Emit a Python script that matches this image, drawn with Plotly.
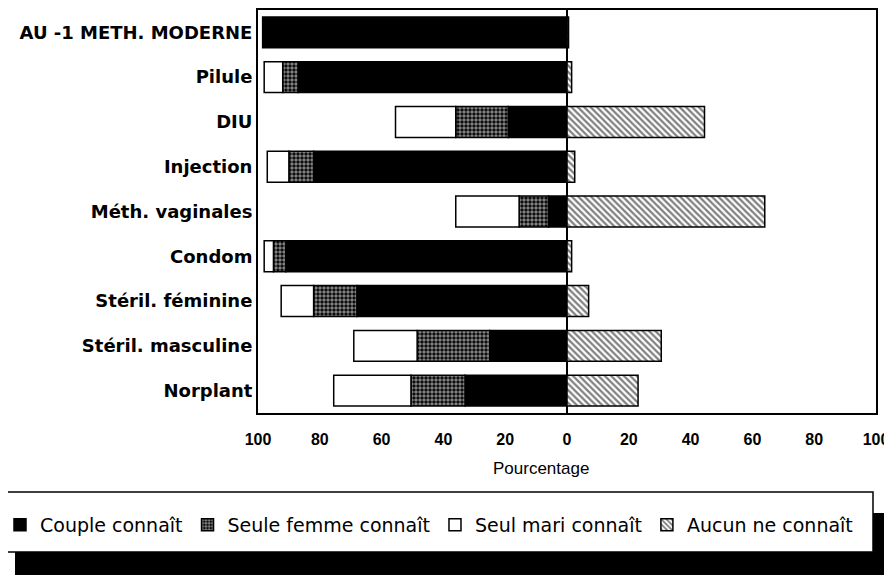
import plotly.graph_objects as go

categories = ["AU -1 METH. MODERNE", "Pilule", "DIU", "Injection", "Méth. vaginales",
              "Condom", "Stéril. féminine", "Stéril. masculine", "Norplant"]
couple = [98.5, 87, 19, 82, 6, 91, 68, 25, 33]
femme = [0, 5, 17, 8, 9.5, 4, 14, 23.5, 17.5]
mari = [0, 6, 19.5, 7, 20.5, 3, 10.5, 20.5, 25]
aucun = [0.5, 1.5, 44.5, 2.5, 64, 1.5, 7, 30.5, 23]

tick_vals = [-100, -80, -60, -40, -20, 0, 20, 40, 60, 80, 100]
tick_text = ["100", "80", "60", "40", "20", "0", "20", "40", "60", "80", "100"]

# the page body has an 8px margin, so the figure is sized to fill the rest of the window
OFF = 8
W, H = 892 - OFF, 575 - OFF
PLOT_L, PLOT_R, PLOT_T, PLOT_B = 258, 876, 10, 413   # in window pixels
ML = PLOT_L - OFF
MR = W - (PLOT_R - OFF)
MT = PLOT_T - OFF
MB = H - (PLOT_B - OFF)
PW, PH = W - ML - MR, H - MT - MB

def px_x(p):
    return (p - OFF - ML) / PW

def px_y(p):
    return (H - MB - (p - OFF)) / PH

line = dict(color="black", width=1.5)
fig = go.Figure()
fig.add_trace(go.Bar(y=categories, x=[-v for v in couple], orientation="h", name="Couple connaît",
                     marker=dict(color="black", line=line)))
fig.add_trace(go.Bar(y=categories, x=[-v for v in femme], orientation="h", name="Seule femme connaît",
                     marker=dict(color="black", line=line,
                                 pattern=dict(shape=".", fgcolor="white", bgcolor="black", size=4, solidity=0.6))))
fig.add_trace(go.Bar(y=categories, x=[-v for v in mari], orientation="h", name="Seul mari connaît",
                     marker=dict(color="white", line=line)))
fig.add_trace(go.Bar(y=categories, x=aucun, orientation="h", name="Aucun ne connaît",
                     marker=dict(color="white", line=line,
                                 pattern=dict(shape="\\", fgcolor="black", bgcolor="white", size=4.5, solidity=0.5))))

shapes = [
    dict(type="rect", xref="paper", yref="paper", x0=px_x(15), x1=px_x(900), y0=px_y(513), y1=px_y(585),
         fillcolor="black", line=dict(width=0), layer="above"),
    dict(type="rect", xref="paper", yref="paper", x0=px_x(-5), x1=px_x(873), y0=px_y(492), y1=px_y(552),
         fillcolor="white", line=dict(color="black", width=1.5), layer="above"),
]

fig.update_layout(
    width=W, height=H,
    margin=dict(l=ML, r=MR, t=MT, b=MB, pad=0, autoexpand=False),
    paper_bgcolor="white", plot_bgcolor="white",
    barmode="relative", bargap=0.31,
    showlegend=True,
    legend=dict(orientation="h", x=px_x(0), xanchor="left", y=px_y(525), yanchor="middle",
                bgcolor="rgba(0,0,0,0)", borderwidth=0,
                font=dict(family="DejaVu Sans", size=19, color="black")),
    shapes=shapes,
    xaxis=dict(range=[-100, 100], tickvals=tick_vals, ticktext=tick_text,
               showgrid=False, zeroline=True, zerolinecolor="black", zerolinewidth=1.5,
               showline=True, mirror=True, linecolor="black", linewidth=2,
               ticks="", ticklabelstandoff=11,
               tickfont=dict(family="Liberation Sans", size=16, color="black", weight="bold"),
               fixedrange=True),
    yaxis=dict(categoryorder="array", categoryarray=categories, autorange="reversed",
               showgrid=False, showline=True, mirror=True, linecolor="black", linewidth=2,
               ticks="", ticklabelstandoff=0,
               tickfont=dict(family="DejaVu Sans", size=18, color="black", weight="bold"),
               fixedrange=True),
    annotations=[dict(text="Pourcentage", xref="paper", yref="paper", x=px_x(541), y=px_y(468),
                      xanchor="center", yanchor="middle", showarrow=False,
                      font=dict(family="Liberation Sans", size=17, color="black"))],
)

fig.write_html("out.html")
